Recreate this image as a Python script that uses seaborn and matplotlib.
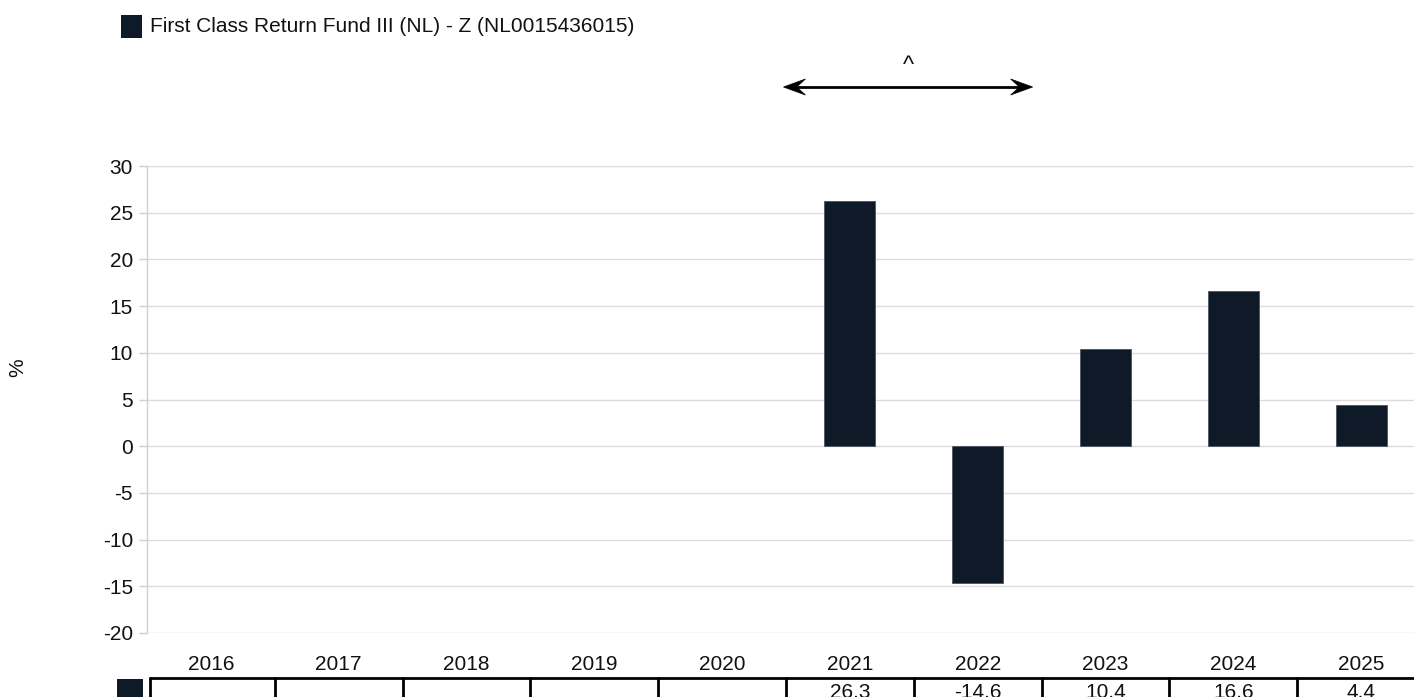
import numpy as np
import pandas as pd
import matplotlib
matplotlib.use("Agg")
import matplotlib.pyplot as plt
import seaborn as sns
from matplotlib.transforms import blended_transform_factory
from matplotlib.patches import Rectangle, Polygon
from matplotlib.lines import Line2D

years = ["2016", "2017", "2018", "2019", "2020", "2021", "2022", "2023", "2024", "2025"]
returns = [np.nan, np.nan, np.nan, np.nan, np.nan, 26.3, -14.6, 10.4, 16.6, 4.4]
series_name = "First Class Return Fund III (NL) - Z (NL0015436015)"
yticks = [-20, -15, -10, -5, 0, 5, 10, 15, 20, 25, 30]

sns.set_theme(style="white")
plt.rcParams['font.family'] = ['Liberation Sans', 'DejaVu Sans']

FS = 15
W, H = 1414, 697
fig = plt.figure(figsize=(W / 100, H / 100), dpi=100)
ax = fig.add_axes([147 / W, 1 - 633 / H, (1425 - 147) / W, (633 - 166) / H])

df = pd.DataFrame({"year": years, "ret": returns})
bar_color = "#0e1a28"
sns.barplot(data=df, x="year", y="ret", order=years, color=bar_color, width=0.4,
            edgecolor="#4a5562", linewidth=0.6, saturation=1, ax=ax, zorder=3)

ax.set_xlim(-0.5, len(years) - 0.5)
ax.set_ylim(-20, 30)
ax.set_yticks(yticks)
ax.set_yticklabels([str(t) for t in yticks], fontsize=FS, color="#111111")
ax.yaxis.grid(True, color="#dcdcdc", linewidth=1, zorder=0)
ax.xaxis.grid(False)
for s in ["top", "right", "bottom"]:
    ax.spines[s].set_visible(False)
ax.spines["left"].set_color("#d0d0d0")
ax.spines["left"].set_linewidth(1)
ax.tick_params(axis="y", which="major", left=True, length=6, width=1, color="#d0d0d0", pad=4)
ax.tick_params(axis="x", bottom=False, pad=10, labelsize=FS, labelcolor="#111111")
ax.set_xlabel("")
ax.set_ylabel("")

fig.text(18 / W, 1 - 368 / H, "%", rotation=90, ha="center", va="center", fontsize=FS, color="#111111")

# Legend
fig.add_artist(Rectangle((121 / W, 1 - 38 / H), 21 / W, 23 / H, transform=fig.transFigure,
                         facecolor=bar_color, edgecolor="none"))
fig.text(150 / W, 1 - 26 / H, series_name, ha="left", va="center", fontsize=FS, color="#111111")

# Arrow annotation
bt = blended_transform_factory(ax.transData, fig.transFigure)
ay = 1 - 87 / H
xl, xr = 4.48, 6.43
ax.add_line(Line2D([xl + 0.05, xr - 0.05], [ay, ay], transform=bt, color="black", lw=2, clip_on=False))
hl = 22 / 127.75  # head length in data units
hh = 8 / H
ax.add_patch(Polygon([(xl, ay), (xl + hl, ay + hh), (xl + hl * 0.6, ay), (xl + hl, ay - hh)],
                     closed=True, transform=bt, facecolor="black", edgecolor="black", lw=0.5, clip_on=False))
ax.add_patch(Polygon([(xr, ay), (xr - hl, ay + hh), (xr - hl * 0.6, ay), (xr - hl, ay - hh)],
                     closed=True, transform=bt, facecolor="black", edgecolor="black", lw=0.5, clip_on=False))
ax.text((xl + xr) / 2, 1 - 66 / H, "^", transform=bt, ha="center", va="center", fontsize=FS + 2, color="#111111")

# Table row
top_y = 1 - 678 / H
ax.add_line(Line2D([-0.48, 9.6], [top_y, top_y], transform=bt, color="black", lw=2, clip_on=False))
for i in range(len(years)):
    xb = i - 0.48 if i == 0 else i - 0.5
    ax.add_line(Line2D([xb, xb], [top_y, 0], transform=bt, color="black", lw=2, clip_on=False))
    v = returns[i]
    if not np.isnan(v):
        ax.text(i, 1 - 692 / H, f"{v:.1f}", transform=bt, ha="center", va="center",
                fontsize=FS, color="#111111", clip_on=False)
fig.add_artist(Rectangle((117 / W, 0), 26 / W, 18 / H, transform=fig.transFigure,
                         facecolor=bar_color, edgecolor="none"))

fig.savefig("out.png", dpi=100)
